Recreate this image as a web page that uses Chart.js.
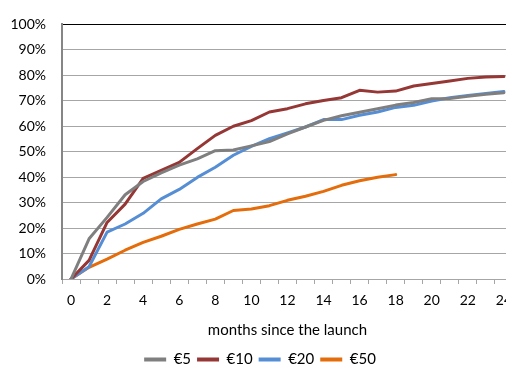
<!DOCTYPE html>
<html>
<head>
<meta charset="utf-8">
<script src="https://cdn.jsdelivr.net/npm/chart.js@4/dist/chart.umd.min.js"></script>
<style>
  html, body { margin: 0; padding: 0; background: #fff; overflow: hidden; }
  #wrap { width: 506px; height: 365px; overflow: hidden; position: relative; }
  canvas { display: block; }
</style>
</head>
<body>
<div id="wrap"><canvas id="chart" width="520" height="377"></canvas></div>
<script>
// Months since launch (category axis)
const months = ['0','1','2','3','4','5','6','7','8','9','10','11','12','13','14','15','16','17','18','19','20','21','22','23','24'];

// Cumulative share per price point, in percent
const eur5  = [0, 15.8, 24.2, 33.1, 38.3, 41.7, 44.7, 47.2, 50.4, 50.7, 52.3, 54.0, 57.0, 59.7, 62.3, 64.1, 65.5, 66.9, 68.3, 69.3, 70.8, 70.9, 71.8, 72.6, 73.2];
const eur10 = [0, 7.3, 22.2, 29.4, 39.5, 42.7, 45.8, 51.2, 56.4, 60.0, 62.2, 65.6, 66.9, 68.8, 70.1, 71.2, 74.1, 73.4, 73.8, 75.8, 76.8, 77.8, 78.8, 79.3, 79.5];
const eur20 = [0, 4.8, 18.4, 21.6, 25.8, 31.5, 35.2, 39.9, 43.9, 48.6, 52.1, 55.1, 57.4, 59.7, 62.6, 62.6, 64.3, 65.6, 67.4, 68.2, 69.9, 71.2, 72.1, 72.9, 73.6];
const eur50 = [0, 4.6, 7.8, 11.3, 14.4, 16.8, 19.5, 21.6, 23.5, 26.9, 27.5, 28.8, 30.9, 32.5, 34.4, 36.8, 38.6, 40.0, 41.0];

// Y axis ticks (percent)
const yTicks = [0, 10, 20, 30, 40, 50, 60, 70, 80, 90, 100];

const seriesNames = ['€5', '€10', '€20', '€50'];
const seriesColors = ['#7f7f7f', '#953735', '#558ed5', '#e46c0a'];
const seriesData = [eur5, eur10, eur20, eur50];

const FONT = 'Lato, "Open Sans", sans-serif';
const GRID = '#a6a6a6';

const datasets = seriesData.map((d, i) => ({
  label: seriesNames[i],
  data: d,
  borderColor: seriesColors[i],
  backgroundColor: seriesColors[i],
  borderWidth: 3,
  pointRadius: 0,
  pointHoverRadius: 0,
  tension: 0,
  borderJoinStyle: 'round',
  borderCapStyle: 'round',
  fill: false
}));

new Chart(document.getElementById('chart'), {
  type: 'line',
  data: { labels: months, datasets },
  options: {
    responsive: false,
    animation: false,
    events: [],
    layout: { padding: { top: 20, left: 0, right: 0, bottom: 0 } },
    plugins: {
      tooltip: { enabled: false },
      legend: {
        position: 'bottom',
        labels: {
          font: { family: FONT, size: 15 },
          color: '#000',
          boxWidth: 22,
          boxHeight: 4,
          padding: 6,
          generateLabels(chart) {
            return chart.data.datasets.map((ds, i) => ({
              text: ds.label,
              fillStyle: ds.borderColor,
              strokeStyle: ds.borderColor,
              lineWidth: 0,
              fontColor: '#000',
              datasetIndex: i,
              hidden: false
            }));
          }
        }
      }
    },
    scales: {
      x: {
        type: 'category',
        offset: true,
        afterFit(scale) { scale.height = 67; },
        grid: {
          offset: true,
          drawOnChartArea: false,
          drawTicks: true,
          tickLength: 5,
          color: GRID,
          lineWidth: 1
        },
        border: { display: true, color: GRID, width: 1 },
        ticks: {
          autoSkip: false,
          maxRotation: 0,
          minRotation: 0,
          padding: 8,
          color: '#000',
          font: { family: FONT, size: 14 },
          callback(value, index) { return index % 2 === 0 ? months[index] : ''; }
        },
        title: {
          display: true,
          text: 'months since the launch',
          color: '#000',
          font: { family: FONT, size: 15 },
          padding: { top: 0, bottom: 7 }
        }
      },
      y: {
        min: 0,
        max: 100,
        afterFit(scale) { scale.width = 62; },
        afterBuildTicks(scale) { scale.ticks = yTicks.map(v => ({ value: v })); },
        grid: {
          drawTicks: false,
          color(ctx) { return ctx.tick && ctx.tick.value === 100 ? '#000' : GRID; },
          lineWidth: 1
        },
        border: { display: true, color: '#868686', width: 2 },
        ticks: {
          padding: 16,
          color: '#000',
          font: { family: FONT, size: 14 },
          callback(value) { return value + '%'; }
        }
      }
    }
  }
});
</script>
</body>
</html>
